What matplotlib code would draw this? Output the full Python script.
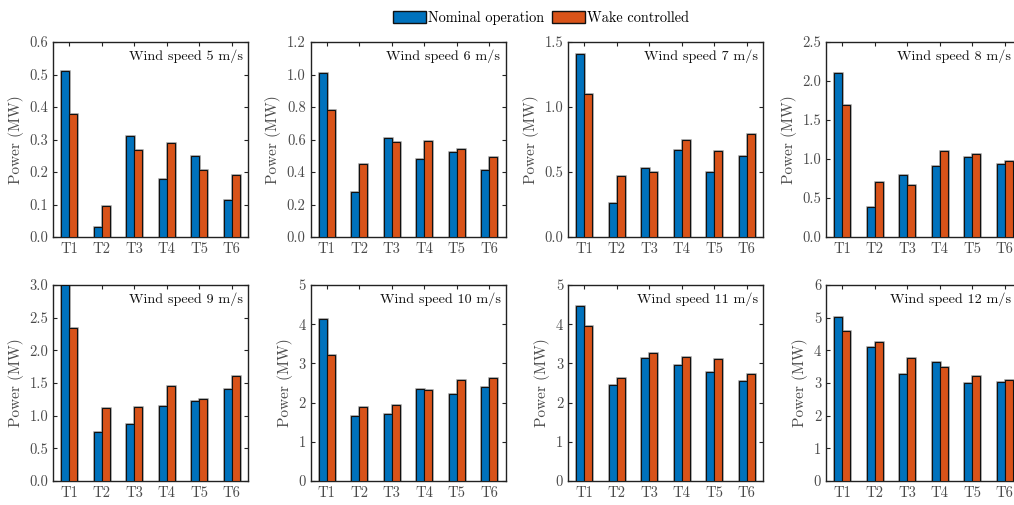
import matplotlib
matplotlib.use("Agg")
import matplotlib.pyplot as plt
from matplotlib.patches import Patch
from matplotlib.ticker import FormatStrFormatter
import numpy as np

plt.rcParams['font.family'] = ['cmr10', 'DejaVu Serif']
plt.rcParams['mathtext.fontset'] = 'cm'
plt.rcParams['axes.formatter.use_mathtext'] = True
plt.rcParams['font.size'] = 10.5

turbines = ['T1', 'T2', 'T3', 'T4', 'T5', 'T6']
wind_speeds = [5, 6, 7, 8, 9, 10, 11, 12]

nominal = [
    [0.51, 0.03, 0.31, 0.18, 0.25, 0.113],
    [1.01, 0.275, 0.61, 0.48, 0.525, 0.415],
    [1.41, 0.26, 0.53, 0.67, 0.50, 0.62],
    [2.10, 0.38, 0.79, 0.91, 1.02, 0.93],
    [3.00, 0.75, 0.88, 1.15, 1.22, 1.41],
    [4.12, 1.66, 1.70, 2.35, 2.21, 2.41],
    [4.46, 2.45, 3.15, 2.95, 2.79, 2.55],
    [5.03, 4.10, 3.28, 3.64, 3.01, 3.04],
]
wake = [
    [0.38, 0.095, 0.267, 0.29, 0.207, 0.19],
    [0.78, 0.45, 0.585, 0.59, 0.54, 0.49],
    [1.10, 0.47, 0.50, 0.75, 0.66, 0.79],
    [1.69, 0.71, 0.67, 1.10, 1.06, 0.98],
    [2.34, 1.11, 1.13, 1.46, 1.26, 1.61],
    [3.21, 1.90, 1.95, 2.31, 2.57, 2.63],
    [3.95, 2.63, 3.26, 3.16, 3.10, 2.73],
    [4.60, 4.27, 3.78, 3.50, 3.20, 3.09],
]

# (ymax, step, decimals) per panel
yaxes = [(0.6, 0.1, 1), (1.2, 0.2, 1), (1.5, 0.5, 1), (2.5, 0.5, 1),
         (3.0, 0.5, 1), (5, 1, 0), (5, 1, 0), (6, 1, 0)]

blue = '#0072BD'
orange = '#D95319'
gray = '#4a4a4a'

W, H = 1014, 505
fig = plt.figure(figsize=(W / 100, H / 100), dpi=100)

lefts = [53, 310.5, 568, 826]
rows = [(42, 237), (285, 481)]
aw = 195

x = np.arange(1, 7)
bw = 0.25
for i, ws in enumerate(wind_speeds):
    top, bot = rows[i // 4]
    l = lefts[i % 4]
    ax = fig.add_axes([l / W, 1 - bot / H, aw / W, (bot - top) / H])
    for vals, off, c in [(nominal[i], -bw / 2, blue), (wake[i], bw / 2, orange)]:
        ax.bar(x + off, vals, bw, color=c, edgecolor='#999999', linewidth=1.8, zorder=2)
        ax.bar(x + off, vals, bw, color=c, edgecolor='#111111', linewidth=0.8, zorder=3)
    ymax, step, dec = yaxes[i]
    ax.set_xlim(0.5, 6.5)
    ax.set_ylim(0, ymax)
    ax.set_xticks(x)
    ax.set_xticklabels(turbines)
    ax.set_yticks(np.arange(0, ymax + step / 2, step))
    ax.yaxis.set_major_formatter(FormatStrFormatter('%.{}f'.format(dec)))
    ax.tick_params(direction='in', top=True, right=True, length=3, width=0.8,
                   colors='#222222', labelcolor=gray, labelsize=10.5)
    for s in ax.spines.values():
        s.set_linewidth(1.0)
        s.set_color('#222222')
    ax.set_ylabel('Power (MW)', color=gray, fontsize=11)
    # right edge of the label: 5 px inside the axes, but inside the figure
    tx = min(l + aw - 5, W - 3)
    ty = top + 14
    ax.text(tx / W, 1 - ty / H, 'Wind speed {} m/s'.format(ws), transform=fig.transFigure,
            ha='right', va='center', fontsize=10.2, color='#111111', zorder=5)

handles = [Patch(facecolor=blue, edgecolor='#111111', label='Nominal operation'),
           Patch(facecolor=orange, edgecolor='#111111', label='Wake controlled')]
fig.legend(handles=handles, loc='center', bbox_to_anchor=(541 / W, 1 - 18 / H),
           ncol=2, frameon=False, handlelength=2.3, handleheight=0.9,
           handletextpad=0.15, columnspacing=0.6, fontsize=10.3)

fig.savefig('out.png', dpi=100)
